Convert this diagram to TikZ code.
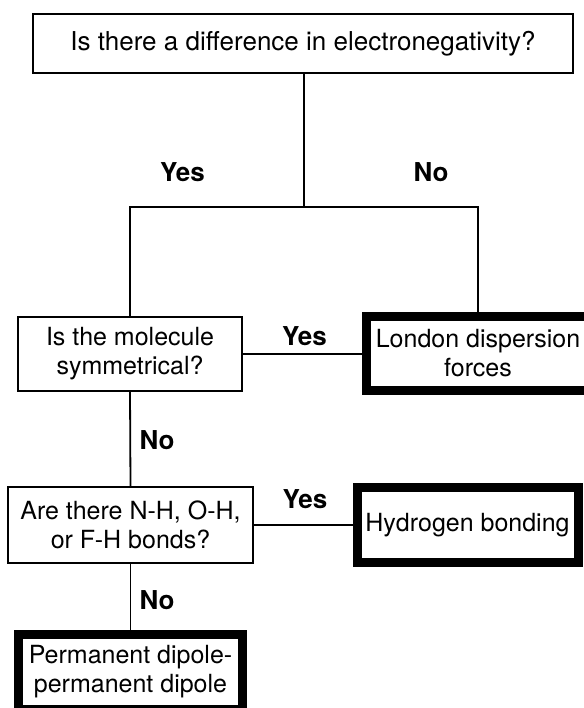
\documentclass[tikz,border=0pt]{standalone}
\usepackage{fontspec}
\setmainfont{TeX Gyre Heros}
\newcommand{\qfont}{\fontsize{25}{29}\selectfont}
\newcommand{\cfont}{\fontsize{26}{29}\selectfont\bfseries}
\begin{document}
\begin{tikzpicture}[x=1pt,y=-1pt,
        question/.style={draw,line width=1.3pt,align=center,font=\qfont,inner sep=0pt},
        answer/.style={draw,line width=9pt,align=center,font=\qfont,inner sep=0pt},
        choice/.style={font=\cfont,inner sep=0pt}]
    \useasboundingbox (0,0) rectangle (583,708);
    % questions
    \node[question,minimum width=540,minimum height=59,font=\fontsize{26}{29}\selectfont] (diff) at (303,43.5) {Is there a difference in electronegativity?};
    \node[question,minimum width=224,minimum height=74] (sym) at (130,354) {Is the molecule\\symmetrical?};
    \node[question,minimum width=245,minimum height=76] (hbq) at (130.5,525) {Are there N-H, O-H,\\or F-H bonds?};
    % results
    \node[answer,minimum width=223,minimum height=74] (london) at (478,353.5) {London dispersion\\forces};
    \node[answer,minimum width=221,minimum height=75] (hbond) at (467.5,525) {Hydrogen bonding};
    \node[answer,minimum width=224,minimum height=75] (dipole) at (130.5,672) {Permanent dipole-\\permanent dipole};
    \coordinate (fork) at (304,207);
    % connectors
    \begin{scope}[line width=1.8pt]
        \draw (diff.south -| fork) -- (fork);
        \draw (sym.north) -- (sym.north |- fork) -- (london.north |- fork) -- (london.north);
        \draw (sym.east) -- (london.west |- sym.east);
        \draw (sym.south) -- (hbq.north);
        \draw (hbq.east) -- (hbond.west |- hbq.east);
        \draw (hbq.south) -- (dipole.north);
    \end{scope}
    % branch labels
    \node[choice] (yes1) at (182.5,172) {Yes};
    \node[choice] (no1) at (431,172) {No};
    \node[choice] (yes2) at (304.5,336) {Yes};
    \node[choice] (no2) at (157,440) {No};
    \node[choice] (yes3) at (305,499) {Yes};
    \node[choice] (no3) at (157,600) {No};
\end{tikzpicture}
\end{document}
